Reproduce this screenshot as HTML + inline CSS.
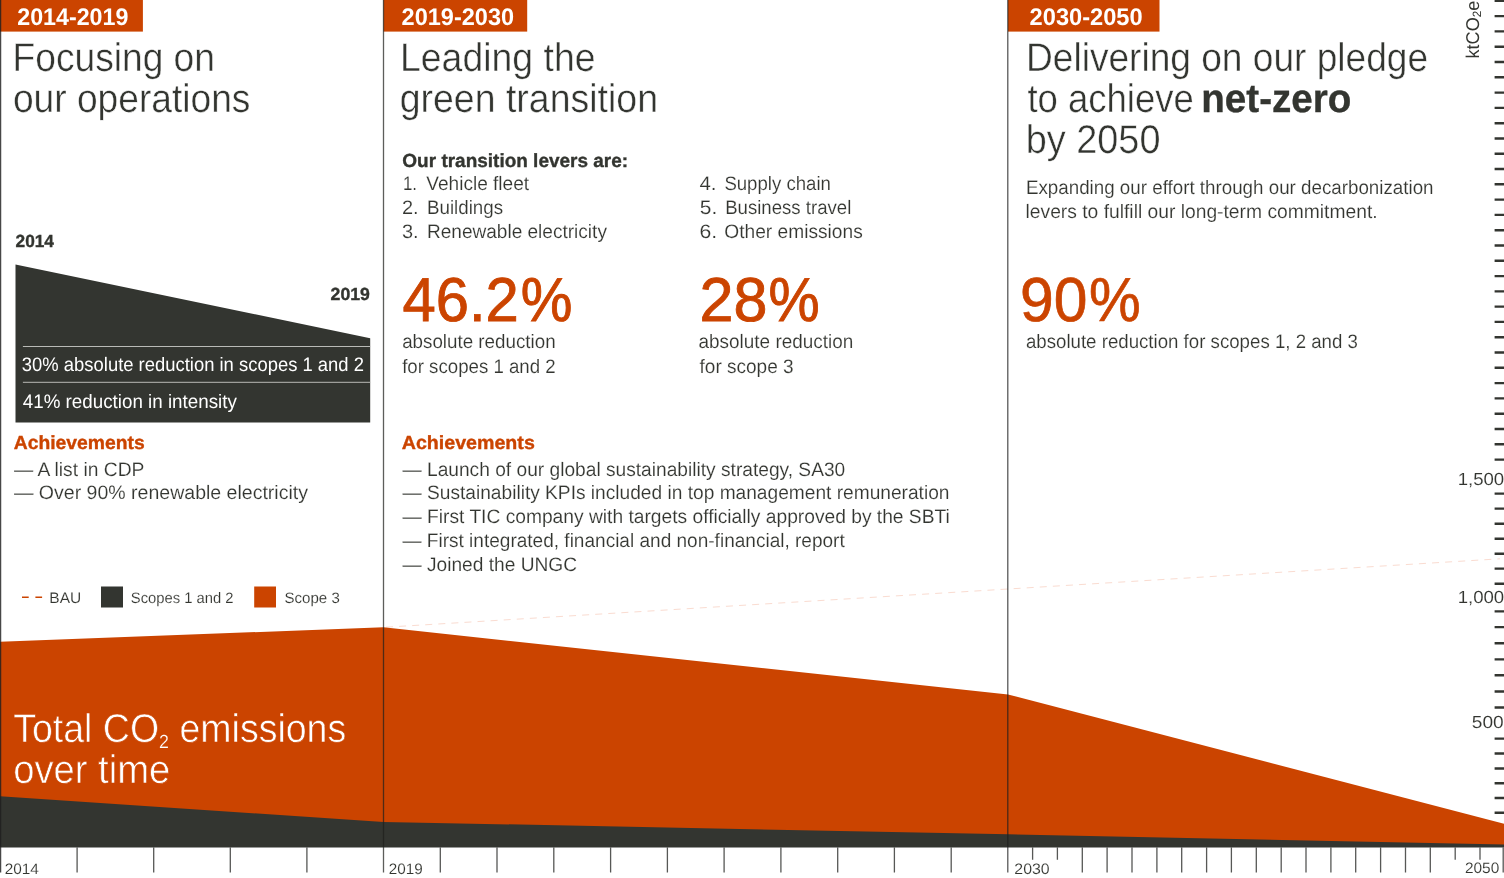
<!DOCTYPE html>
<html lang="en"><head><meta charset="utf-8"><title>Total CO2 emissions over time</title>
<style>html,body{margin:0;padding:0;background:#fff;overflow:hidden}svg{display:block;font-family:"Liberation Sans",Arial,Helvetica,sans-serif;will-change:transform;text-rendering:geometricPrecision}</style></head><body>
<svg width="1504" height="878" viewBox="0 0 1504 878" role="img" aria-label="Total CO2 emissions over time">
<rect width="1504" height="878" fill="#fff"/>
<line x1="386" y1="627.2" x2="1500" y2="558.8" stroke="#fadcd1" stroke-width="1" stroke-dasharray="7 6.1"/>
<polygon fill="#CB4400" points="0,641.7 383.5,627.3 1008,694.5 1504,823.7 1504,846 0,846"/>
<polygon fill="#333530" points="0,796.3 383.5,821.9 1008,834.3 1504,844.4 1504,847.6 0,847.6"/>
<rect x="0" y="0" width="142.9" height="31.6" fill="#CB4400"/>
<rect x="383.5" y="0" width="143.7" height="31.6" fill="#CB4400"/>
<rect x="1008" y="0" width="151.5" height="31.6" fill="#CB4400"/>
<polygon fill="#333530" points="15.5,264.5 370.2,338.2 370.2,422.4 15.5,422.4"/>
<path d="M22.9 346.5H370.2M22.9 382.3H370.2" stroke="#b9bab6" stroke-width="1" fill="none"/>
<path d="M22 597.3h6.7M35.4 597.3h6.7" stroke="#CB4400" stroke-width="1.6" fill="none"/>
<rect x="101" y="586.5" width="22" height="21" fill="#333530"/>
<rect x="254.2" y="586.5" width="21.8" height="21" fill="#CB4400"/>
<path d="M0.62 0V872.6" stroke="rgba(30,30,30,0.82)" stroke-width="1.25" fill="none"/>
<path d="M383.5 0V872.6" stroke="rgba(30,32,28,0.72)" stroke-width="1.3" fill="none"/>
<path d="M1007.75 0V872.6" stroke="rgba(30,30,30,0.64)" stroke-width="1.5" fill="none"/>
<path d="M77.1 847.3V872.6M153.7 847.3V872.6M230.3 847.3V872.6M306.9 847.3V872.6M440.3 847.3V872.6M497.0 847.3V872.6M553.8 847.3V872.6M610.6 847.3V872.6M667.4 847.3V872.6M724.1 847.3V872.6M780.9 847.3V872.6M837.7 847.3V872.6M894.4 847.3V872.6M951.2 847.3V872.6M1032.6 847.3V859.8M1057.4 847.3V859.8M1082.3 847.3V872.6M1107.1 847.3V872.6M1132.0 847.3V872.6M1156.9 847.3V872.6M1181.7 847.3V872.6M1206.6 847.3V872.6M1231.4 847.3V872.6M1256.3 847.3V872.6M1281.2 847.3V872.6M1306.0 847.3V872.6M1330.9 847.3V872.6M1355.7 847.3V872.6M1380.6 847.3V872.6M1405.5 847.3V872.6M1430.3 847.3V872.6M1455.2 847.3V859.8M1480.0 847.3V859.8M1503.2 847.3V872.6" stroke="#575856" stroke-width="1.3" fill="none"/>
<path d="M1494.6 0.8H1504M1494.6 16.1H1504M1494.6 31.4H1504M1494.6 46.7H1504M1494.6 62.0H1504M1494.6 77.3H1504M1494.6 92.6H1504M1494.6 107.9H1504M1494.6 123.2H1504M1494.6 138.5H1504M1494.6 153.7H1504M1494.6 169.0H1504M1494.6 184.3H1504M1494.6 199.6H1504M1494.6 214.9H1504M1494.6 230.2H1504M1494.6 245.5H1504M1494.6 260.8H1504M1494.6 276.1H1504M1494.6 291.4H1504M1494.6 306.6H1504M1494.6 321.9H1504M1494.6 337.2H1504M1494.6 352.5H1504M1494.6 367.8H1504M1494.6 383.1H1504M1494.6 398.4H1504M1494.6 413.7H1504M1494.6 429.0H1504M1494.6 444.3H1504M1494.6 459.6H1504M1494.6 493.6H1504M1494.6 508.6H1504M1494.6 523.8H1504M1494.6 538.8H1504M1494.6 553.7H1504M1494.6 568.6H1504M1494.6 583.8H1504M1494.6 611.4H1504M1494.6 627.1H1504M1494.6 643.3H1504M1494.6 659.4H1504M1494.6 675.3H1504M1494.6 691.5H1504M1494.6 707.5H1504M1494.6 738.6H1504M1494.6 753.5H1504M1494.6 768.5H1504M1494.6 783.2H1504M1494.6 798.0H1504M1494.6 812.7H1504" stroke="#333530" stroke-width="2.4" fill="none"/>
<text id="kt" transform="translate(1478.9,58.4) rotate(-90)" font-size="18.5" fill="#333530" textLength="57.6" lengthAdjust="spacingAndGlyphs">ktCO<tspan font-size="12" dy="2.3">2</tspan><tspan dy="-2.3">e</tspan></text>
<text id="tab1" x="17.21" y="25" font-size="24" font-weight="bold" fill="#fff" textLength="111.23" lengthAdjust="spacingAndGlyphs">2014-2019</text>
<text id="h1a" x="12.60" y="71" font-size="40" fill="#333530" stroke="#fff" stroke-width="0.45" textLength="202.35" lengthAdjust="spacingAndGlyphs">Focusing on</text>
<text id="h1b" x="12.88" y="112" font-size="40" fill="#333530" stroke="#fff" stroke-width="0.45" textLength="237.59" lengthAdjust="spacingAndGlyphs">our operations</text>
<text id="y14" x="15.57" y="247" font-size="17.5" font-weight="bold" fill="#333530" stroke="#333530" stroke-width="0.35" textLength="38.40" lengthAdjust="spacingAndGlyphs">2014</text>
<text id="y19" x="330.57" y="300" font-size="17.5" font-weight="bold" fill="#333530" stroke="#333530" stroke-width="0.35" textLength="39.31" lengthAdjust="spacingAndGlyphs">2019</text>
<text id="m1" x="21.86" y="371" font-size="19.5" fill="#fff" textLength="342.08" lengthAdjust="spacingAndGlyphs">30% absolute reduction in scopes 1 and 2</text>
<text id="m2" x="22.80" y="408" font-size="19.5" fill="#fff" textLength="214.01" lengthAdjust="spacingAndGlyphs">41% reduction in intensity</text>
<text id="ach1" x="13.76" y="449" font-size="19" font-weight="bold" fill="#CB4400" stroke="#CB4400" stroke-width="0.35" textLength="130.93" lengthAdjust="spacingAndGlyphs">Achievements</text>
<text id="a1" x="13.93" y="476" font-size="19.5" fill="#333530" stroke="#fff" stroke-width="0.15" textLength="130.45" lengthAdjust="spacingAndGlyphs">— A list in CDP</text>
<text id="a2" x="13.93" y="499" font-size="19.5" fill="#333530" stroke="#fff" stroke-width="0.15" textLength="294.05" lengthAdjust="spacingAndGlyphs">— Over 90% renewable electricity</text>
<text id="lg1" x="49.31" y="603" font-size="15.2" fill="#333530" stroke="#fff" stroke-width="0.12" textLength="31.90" lengthAdjust="spacingAndGlyphs">BAU</text>
<text id="lg2" x="130.78" y="603" font-size="15.2" fill="#333530" stroke="#fff" stroke-width="0.12" textLength="102.82" lengthAdjust="spacingAndGlyphs">Scopes 1 and 2</text>
<text id="lg3" x="284.55" y="603" font-size="15.2" fill="#333530" stroke="#fff" stroke-width="0.12" textLength="55.24" lengthAdjust="spacingAndGlyphs">Scope 3</text>
<text id="tot1" x="13.15" y="742" font-size="40" fill="#fff" stroke="#CB4400" stroke-width="0.6" textLength="333.11" lengthAdjust="spacingAndGlyphs"><tspan>Total CO</tspan><tspan font-size="19" dy="6" stroke-width="0.2">2</tspan><tspan dy="-6"> emissions</tspan></text>
<text id="tot2" x="13.18" y="783" font-size="40" fill="#fff" stroke="#CB4400" stroke-width="0.6" textLength="157.14" lengthAdjust="spacingAndGlyphs">over time</text>
<text id="x14" x="4.72" y="874" font-size="15" fill="#333530" stroke="#fff" stroke-width="0.1" textLength="34.21" lengthAdjust="spacingAndGlyphs">2014</text>
<text id="x19" x="388.73" y="874" font-size="15" fill="#333530" stroke="#fff" stroke-width="0.1" textLength="34.00" lengthAdjust="spacingAndGlyphs">2019</text>
<text id="x30" x="1014.30" y="874" font-size="15" fill="#333530" stroke="#fff" stroke-width="0.1" textLength="35.36" lengthAdjust="spacingAndGlyphs">2030</text>
<text id="x50" x="1464.94" y="873" font-size="15" fill="#333530" stroke="#fff" stroke-width="0.1" textLength="34.31" lengthAdjust="spacingAndGlyphs">2050</text>
<text id="tab2" x="401.61" y="25" font-size="24" font-weight="bold" fill="#fff" textLength="112.44" lengthAdjust="spacingAndGlyphs">2019-2030</text>
<text id="h2a" x="400.00" y="71" font-size="40" fill="#333530" stroke="#fff" stroke-width="0.45" textLength="195.51" lengthAdjust="spacingAndGlyphs">Leading the</text>
<text id="h2b" x="399.71" y="112" font-size="40" fill="#333530" stroke="#fff" stroke-width="0.45" textLength="258.28" lengthAdjust="spacingAndGlyphs">green transition</text>
<text id="lev" x="402.37" y="167" font-size="19" font-weight="bold" fill="#333530" stroke="#333530" stroke-width="0.35" textLength="225.73" lengthAdjust="spacingAndGlyphs">Our transition levers are:</text>
<text id="n1" x="402.94" y="190" font-size="19.5" fill="#333530" stroke="#fff" stroke-width="0.15" textLength="14.08" lengthAdjust="spacingAndGlyphs">1.</text>
<text id="n2" x="401.90" y="214" font-size="19.5" fill="#333530" stroke="#fff" stroke-width="0.15" textLength="16.70" lengthAdjust="spacingAndGlyphs">2.</text>
<text id="n3" x="401.90" y="238" font-size="19.5" fill="#333530" stroke="#fff" stroke-width="0.15" textLength="16.70" lengthAdjust="spacingAndGlyphs">3.</text>
<text id="l1" x="426.34" y="190" font-size="19.5" fill="#333530" stroke="#fff" stroke-width="0.15" textLength="102.68" lengthAdjust="spacingAndGlyphs">Vehicle fleet</text>
<text id="l2" x="426.98" y="214" font-size="19.5" fill="#333530" stroke="#fff" stroke-width="0.15" textLength="76.11" lengthAdjust="spacingAndGlyphs">Buildings</text>
<text id="l3" x="426.96" y="238" font-size="19.5" fill="#333530" stroke="#fff" stroke-width="0.15" textLength="179.96" lengthAdjust="spacingAndGlyphs">Renewable electricity</text>
<text id="n4" x="699.49" y="190" font-size="19.5" fill="#333530" stroke="#fff" stroke-width="0.15" textLength="17.02" lengthAdjust="spacingAndGlyphs">4.</text>
<text id="n5" x="699.85" y="214" font-size="19.5" fill="#333530" stroke="#fff" stroke-width="0.15" textLength="17.45" lengthAdjust="spacingAndGlyphs">5.</text>
<text id="n6" x="699.42" y="238" font-size="19.5" fill="#333530" stroke="#fff" stroke-width="0.15" textLength="17.70" lengthAdjust="spacingAndGlyphs">6.</text>
<text id="l4" x="724.39" y="190" font-size="19.5" fill="#333530" stroke="#fff" stroke-width="0.15" textLength="106.50" lengthAdjust="spacingAndGlyphs">Supply chain</text>
<text id="l5" x="725.19" y="214" font-size="19.5" fill="#333530" stroke="#fff" stroke-width="0.15" textLength="126.08" lengthAdjust="spacingAndGlyphs">Business travel</text>
<text id="l6" x="724.35" y="238" font-size="19.5" fill="#333530" stroke="#fff" stroke-width="0.15" textLength="138.41" lengthAdjust="spacingAndGlyphs">Other emissions</text>
<text id="b1" x="402.49" y="321" font-size="62" fill="#CB4400" stroke="#CB4400" stroke-width="0.9" textLength="116.34" lengthAdjust="spacingAndGlyphs">46.2</text>
<text id="b1p" x="520.77" y="321" font-size="62" fill="#CB4400" stroke="#CB4400" stroke-width="0.9" textLength="51.68" lengthAdjust="spacingAndGlyphs">%</text>
<text id="b2" x="699.50" y="321" font-size="62" fill="#CB4400" stroke="#CB4400" stroke-width="0.9" textLength="67.87" lengthAdjust="spacingAndGlyphs">28</text>
<text id="b2p" x="768.60" y="321" font-size="62" fill="#CB4400" stroke="#CB4400" stroke-width="0.9" textLength="51.14" lengthAdjust="spacingAndGlyphs">%</text>
<text id="s1a" x="402.14" y="348" font-size="19.5" fill="#333530" stroke="#fff" stroke-width="0.15" textLength="153.47" lengthAdjust="spacingAndGlyphs">absolute reduction</text>
<text id="s1b" x="402.14" y="373" font-size="19.5" fill="#333530" stroke="#fff" stroke-width="0.15" textLength="153.53" lengthAdjust="spacingAndGlyphs">for scopes 1 and 2</text>
<text id="s2a" x="698.56" y="348" font-size="19.5" fill="#333530" stroke="#fff" stroke-width="0.15" textLength="154.76" lengthAdjust="spacingAndGlyphs">absolute reduction</text>
<text id="s2b" x="699.53" y="373" font-size="19.5" fill="#333530" stroke="#fff" stroke-width="0.15" textLength="94.10" lengthAdjust="spacingAndGlyphs">for scope 3</text>
<text id="ach2" x="401.75" y="449" font-size="19" font-weight="bold" fill="#CB4400" stroke="#CB4400" stroke-width="0.35" textLength="133.06" lengthAdjust="spacingAndGlyphs">Achievements</text>
<text id="c1" x="402.52" y="476" font-size="19.5" fill="#333530" stroke="#fff" stroke-width="0.15" textLength="442.72" lengthAdjust="spacingAndGlyphs">— Launch of our global sustainability strategy, SA30</text>
<text id="c2" x="402.52" y="499" font-size="19.5" fill="#333530" stroke="#fff" stroke-width="0.15" textLength="546.97" lengthAdjust="spacingAndGlyphs">— Sustainability KPIs included in top management remuneration</text>
<text id="c3" x="402.52" y="523" font-size="19.5" fill="#333530" stroke="#fff" stroke-width="0.15" textLength="547.25" lengthAdjust="spacingAndGlyphs">— First TIC company with targets officially approved by the SBTi</text>
<text id="c4" x="402.52" y="547" font-size="19.5" fill="#333530" stroke="#fff" stroke-width="0.15" textLength="442.23" lengthAdjust="spacingAndGlyphs">— First integrated, financial and non-financial, report</text>
<text id="c5" x="402.52" y="571" font-size="19.5" fill="#333530" stroke="#fff" stroke-width="0.15" textLength="174.49" lengthAdjust="spacingAndGlyphs">— Joined the UNGC</text>
<text id="tab3" x="1029.62" y="25" font-size="24" font-weight="bold" fill="#fff" textLength="113.05" lengthAdjust="spacingAndGlyphs">2030-2050</text>
<text id="h3a" x="1025.99" y="71" font-size="40" fill="#333530" stroke="#fff" stroke-width="0.45" textLength="402.14" lengthAdjust="spacingAndGlyphs">Delivering on our pledge</text>
<text id="h3b" x="1027.39" y="112" font-size="40" fill="#333530" stroke="#fff" stroke-width="0.45" textLength="166.39" lengthAdjust="spacingAndGlyphs">to achieve</text>
<text id="h3bb" x="1201.27" y="112" font-size="40" font-weight="bold" fill="#333530" stroke="#333530" stroke-width="0.35" textLength="150.18" lengthAdjust="spacingAndGlyphs">net-zero</text>
<text id="h3c" x="1025.71" y="153" font-size="40" fill="#333530" stroke="#fff" stroke-width="0.45" textLength="134.76" lengthAdjust="spacingAndGlyphs">by 2050</text>
<text id="p1" x="1025.98" y="194" font-size="19.5" fill="#333530" stroke="#fff" stroke-width="0.15" textLength="407.57" lengthAdjust="spacingAndGlyphs">Expanding our effort through our decarbonization</text>
<text id="p2" x="1025.55" y="218" font-size="19.5" fill="#333530" stroke="#fff" stroke-width="0.15" textLength="352.04" lengthAdjust="spacingAndGlyphs">levers to fulfill our long-term commitment.</text>
<text id="b3" x="1020.01" y="321" font-size="62" fill="#CB4400" stroke="#CB4400" stroke-width="0.7" textLength="67.35" lengthAdjust="spacingAndGlyphs">90</text>
<text id="b3p" x="1088.89" y="321" font-size="62" fill="#CB4400" stroke="#CB4400" stroke-width="0.7" textLength="51.68" lengthAdjust="spacingAndGlyphs">%</text>
<text id="s3" x="1025.95" y="348" font-size="19.5" fill="#333530" stroke="#fff" stroke-width="0.15" textLength="331.97" lengthAdjust="spacingAndGlyphs">absolute reduction for scopes 1, 2 and 3</text>
<text id="yl1" x="1457.65" y="485" font-size="17.5" fill="#333530" stroke="#fff" stroke-width="0.1" textLength="46.57" lengthAdjust="spacingAndGlyphs">1,500</text>
<text id="yl2" x="1457.65" y="603" font-size="17.5" fill="#333530" stroke="#fff" stroke-width="0.1" textLength="46.57" lengthAdjust="spacingAndGlyphs">1,000</text>
<text id="yl3" x="1471.81" y="728" font-size="17.5" fill="#333530" stroke="#fff" stroke-width="0.1" textLength="31.91" lengthAdjust="spacingAndGlyphs">500</text>
</svg></body></html>
